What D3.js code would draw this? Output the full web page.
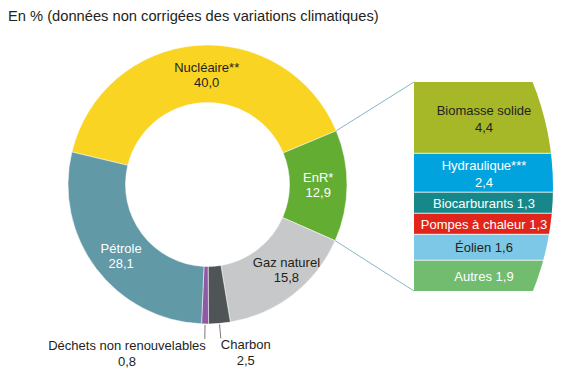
<!DOCTYPE html>
<html lang="fr">
<head>
<meta charset="utf-8">
<title>Consommation d'énergie primaire</title>
<script src="https://cdn.jsdelivr.net/npm/d3@7"></script>
<style>
  body { margin: 0; background: #fff; }
  svg { display: block; font-family: "Liberation Sans", Arial, sans-serif; }
  .lbl { font-size: 13px; }
</style>
</head>
<body>
<svg width="564" height="377"></svg>
<script>
// donut: primary energy mix (%)
const sources = ["Nucléaire**", "EnR*", "Gaz naturel", "Charbon", "Déchets non renouvelables", "Pétrole"];
const shares = [40.0, 12.9, 15.8, 2.5, 0.8, 28.1];
const shareLabels = ["40,0", "12,9", "15,8", "2,5", "0,8", "28,1"];
const sourceColors = ["#f9d423", "#63ad32", "#c7c8ca", "#4f5456", "#8e5aa5", "#6199a6"];
const sourceText = ["#231f20", "#fff", "#231f20", "#231f20", "#231f20", "#fff"];

// breakdown of renewables (EnR)
const enr = ["Biomasse solide", "Hydraulique***", "Biocarburants", "Pompes à chaleur", "Éolien", "Autres"];
const enrValues = [4.4, 2.4, 1.3, 1.3, 1.6, 1.9];
const enrLabels = ["4,4", "2,4", "1,3", "1,3", "1,6", "1,9"];
const enrColors = ["#a6b827", "#00a3dd", "#17888a", "#e1251b", "#7dc8e6", "#72bc6f"];
const enrText = ["#231f20", "#fff", "#fff", "#fff", "#231f20", "#fff"];
const enrTwoLines = [true, true, false, false, false, false];

const svg = d3.select("svg");
const cx = 207.5, cy = 184.5, R = 139.5, r = 82;
const deg = Math.PI / 180;

svg.append("text")
  .attr("x", 8).attr("y", 21)
  .attr("font-size", 14.7).attr("fill", "#231f20")
  .text("En % (données non corrigées des variations climatiques)");

const pie = d3.pie().sort(null).value(d => d.v)
  .startAngle(-76.5 * deg).endAngle(283.5 * deg);
const arcs = pie(sources.map((s, i) => ({ name: s, v: shares[i], i })));
const arc = d3.arc().innerRadius(r).outerRadius(R);
const lblArc = d3.arc().innerRadius((r + R) / 2).outerRadius((r + R) / 2);

const g = svg.append("g").attr("transform", `translate(${cx},${cy})`);
g.selectAll("path").data(arcs).join("path")
  .attr("d", arc)
  .attr("fill", d => sourceColors[d.data.i])
  .attr("stroke", "#fff").attr("stroke-width", 0.5);

// small nudges so labels sit like the original
const nudge = { 0: [8, 1], 1: [0, -1], 2: [11, -2], 5: [2, 5] };
arcs.filter(d => d.data.v > 5).forEach(d => {
  const [x, y] = lblArc.centroid(d);
  const [dx, dy] = nudge[d.data.i] || [0, 0];
  const t = g.append("text").attr("class", "lbl")
    .attr("text-anchor", "middle").attr("fill", sourceText[d.data.i]);
  t.append("tspan").attr("x", x + dx).attr("y", y + dy - 3).text(d.data.name);
  t.append("tspan").attr("x", x + dx).attr("y", y + dy + 12).text(shareLabels[d.data.i]);
});

// leader lines for the thin slices
arcs.filter(d => d.data.v < 5).forEach(d => {
  const a = (d.startAngle + d.endAngle) / 2;
  const x1 = Math.sin(a) * (R + 1), y1 = -Math.cos(a) * (R + 1);
  const x2 = Math.sin(a) * (R + 15), y2 = -Math.cos(a) * (R + 15);
  g.append("line").attr("x1", x1).attr("y1", y1).attr("x2", x2).attr("y2", y2)
    .attr("stroke", "#555").attr("stroke-width", 0.8);
  const left = Math.sin(a) < 0;
  const t = g.append("text").attr("class", "lbl").attr("fill", "#231f20")
    .attr("text-anchor", left ? "end" : "start")
    .attr("x", x2 + (left ? 1 : 0)).attr("y", y2 + 11)
    .text(d.data.name);
  const w = t.node().getComputedTextLength();
  const mid = left ? x2 + 1 - w / 2 : x2 + w / 2;
  g.append("text").attr("class", "lbl").attr("fill", "#231f20")
    .attr("text-anchor", "middle").attr("x", mid).attr("y", y2 + 27)
    .text(shareLabels[d.data.i]);
});

// EnR breakdown panel
const px = 414, pTop = 82, pBot = 291;
const y = d3.scaleLinear().domain([0, d3.sum(enrValues)]).range([pTop, pBot]);
const cum = d3.cumsum([0, ...enrValues]);

svg.append("clipPath").attr("id", "panelClip")
  .append("circle").attr("cx", 273).attr("cy", 187).attr("r", 280);

const enrArc = arcs[1];
const ex = a => cx + Math.sin(a) * R, ey = a => cy - Math.cos(a) * R;
svg.append("line")
  .attr("x1", ex(enrArc.startAngle)).attr("y1", ey(enrArc.startAngle))
  .attr("x2", px).attr("y2", y(0))
  .attr("stroke", "#8ab5c6").attr("stroke-width", 1);
svg.append("line")
  .attr("x1", ex(enrArc.endAngle)).attr("y1", ey(enrArc.endAngle))
  .attr("x2", px).attr("y2", y(cum[cum.length - 1]))
  .attr("stroke", "#8ab5c6").attr("stroke-width", 1);

const panel = svg.append("g").attr("clip-path", "url(#panelClip)");
panel.selectAll("rect").data(enrValues).join("rect")
  .attr("x", px).attr("width", 564 - px)
  .attr("y", (d, i) => y(cum[i]))
  .attr("height", (d, i) => y(cum[i + 1]) - y(cum[i]))
  .attr("fill", (d, i) => enrColors[i]);
panel.selectAll("line").data(enrValues.slice(1)).join("line")
  .attr("x1", px).attr("x2", 564)
  .attr("y1", (d, i) => y(cum[i + 1])).attr("y2", (d, i) => y(cum[i + 1]))
  .attr("stroke", "#fff").attr("stroke-width", 0.8);

const tx = 484;
enrValues.forEach((v, i) => {
  const ym = (y(cum[i]) + y(cum[i + 1])) / 2;
  const t = svg.append("text").attr("class", "lbl")
    .attr("text-anchor", "middle").attr("fill", enrText[i]);
  if (enrTwoLines[i]) {
    t.append("tspan").attr("x", tx).attr("y", ym - 3).text(enr[i]);
    t.append("tspan").attr("x", tx).attr("y", ym + 14).text(enrLabels[i]);
  } else {
    t.attr("x", tx).attr("y", ym + 5).text(enr[i] + " " + enrLabels[i]);
  }
});
</script>
</body>
</html>
